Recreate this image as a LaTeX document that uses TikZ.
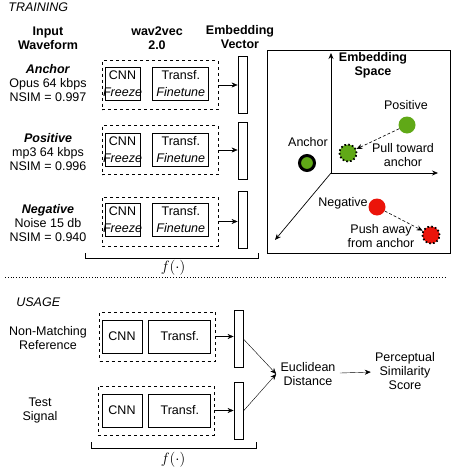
\documentclass[tikz,border=0pt]{standalone}
\usepackage{fix-cm}
\usepackage{fontspec}
\setmainfont{Liberation Sans}
\usetikzlibrary{arrows.meta, positioning}

\definecolor{ptgreen}{RGB}{96,169,23}
\definecolor{ptred}{RGB}{235,20,10}

\begin{document}
\fontsize{12.5}{14}\selectfont
\begin{tikzpicture}[x=1pt, y=-1pt, >={Stealth[length=6pt,width=5pt]},
    every node/.style={align=center},
    enc/.style={draw, dashed, line width=0.6pt, minimum width=116, minimum height=49},
    blk/.style={draw, line width=0.8pt, inner sep=0, minimum height=33},
    cnn/.style={blk, minimum width=35},
    tfm/.style={blk, minimum width=56},
    vec/.style={draw, line width=0.8pt, inner sep=0, minimum width=9, minimum height=57},
    dot/.style={circle, inner sep=0, minimum size=17},
    moved/.style={dot, draw, line width=1.8pt, dash pattern=on 1.6pt off 2.2pt},
    hint/.style={->, densely dashed, line width=0.6pt},
    fnc/.style={font=\fontsize{15}{16}\selectfont}]

\useasboundingbox (0,0) rectangle (453,471);

% Training
\node[font=\itshape, anchor=west] (train) at (4,7) {TRAINING};
\node[font=\bfseries] (hIn) at (48,38) {Input\\Waveform};
\node[font=\bfseries] (hW2v) at (157,38) {wav2vec\\2.0};
\node[font=\bfseries] (hEmb) at (240,37) {Embedding\\Vector};

% anchor row
\node (inA) at (48,83) {\textbf{\textit{Anchor}}\\Opus 64 kbps\\NSIM = 0.997};
\node[enc] (encA) at (160,85) {};
\node[cnn] (cnnA) at (122.5,84) {CNN\\[3pt]\makebox[0pt]{\textit{Freeze}}};
\node[tfm] (tfA) [right=12 of cnnA] {Transf.\\[3pt]\textit{Finetune}};
\node[vec] (vecA) at (242.5,85) {};
\draw[->] (encA.east) -- (encA.east -| vecA.west);

% positive row
\node (inP) at (48,152) {\textbf{\textit{Positive}}\\mp3 64 kbps\\NSIM = 0.996};
\node[enc] (encP) at (160,150) {};
\node[cnn] (cnnP) at (122.5,150) {CNN\\[3pt]\makebox[0pt]{\textit{Freeze}}};
\node[tfm] (tfP) [right=12 of cnnP] {Transf.\\[3pt]\textit{Finetune}};
\node[vec] (vecP) at (242.5,151) {};
\draw[->] (encP.east) -- (encP.east -| vecP.west);

% negative row
\node (inN) at (48,223) {\textbf{\textit{Negative}}\\Noise 15 db\\NSIM = 0.940};
\node[enc] (encN) at (160,221.5) {};
\node[cnn] (cnnN) at (122.5,220) {CNN\\[3pt]\makebox[0pt]{\textit{Freeze}}};
\node[tfm] (tfN) [right=12 of cnnN] {Transf.\\[3pt]\textit{Finetune}};
\node[vec] (vecN) at (242.5,219.5) {};
\draw[->] (encN.east) -- (encN.east -| vecN.west);

\draw[line width=0.6pt] (85,253) -- (85,258) -- (258,258) -- (258,253);
\node[fnc] (fT) at (173,268) {$f(\cdot)$};

% embedding space
\draw[line width=0.8pt] (267,50) rectangle (450,253);
\coordinate (O) at (331,173);
\coordinate (yEnd) at (331,53);
\coordinate (xEnd) at (438,173);
\coordinate (zEnd) at (275,240);
\draw[->, line width=0.7pt] (O) -- (yEnd);
\draw[->, line width=0.7pt] (O) -- (xEnd);
\draw[->, line width=0.7pt] (O) -- (zEnd);
\node[font=\bfseries] (hSpace) at (373,65) {Embedding\\Space};

\node[dot, draw, line width=3pt, fill=ptgreen, minimum size=15] (anc) at (307,163) {};
\node (ancL) at (308,142) {Anchor};
\node[dot, fill=ptgreen] (pos) at (407,125) {};
\node (posL) at (406,105) {Positive};
\node[moved, fill=ptgreen] (posNew) at (348,153) {};
\draw[hint] (pos) -- (posNew);
\node (pull) at (403,155) {Pull toward\\anchor};

\node[dot, fill=ptred] (neg) at (377,207) {};
\node (negL) at (343,203) {Negative};
\node[moved, fill=ptred] (negNew) at (431,235) {};
\draw[hint] (neg) -- (negNew);
\node (push) at (381,236) {Push away\\from anchor};

\draw[dotted, line width=0.8pt] (5,277) -- (447,277);

% Usage
\node[font=\itshape, anchor=west] (usage) at (12,302) {USAGE};

\node (inRef) at (48,338) {Non-Matching\\Reference};
\node[enc] (encR) at (157.5,336.5) {};
\node[blk, minimum width=40] (cnnR) at (122,336.5) {CNN};
\node[blk, minimum width=62] (tfR) [right=6 of cnnR] {Transf.};
\node[vec] (vecR) at (238.5,339) {};
\draw[->] (encR.east) -- (encR.east -| vecR.west);

\node (inT) at (40,410) {Test\\Signal};
\node[enc] (encT) at (156,410.5) {};
\node[blk, minimum width=40] (cnnT) at (122,410.5) {CNN};
\node[blk, minimum width=62] (tfT) [right=6 of cnnT] {Transf.};
\node[vec] (vecT) at (238.5,411) {};
\draw[->] (encT.east) -- (encT.east -| vecT.west);

\node (dist) at (308,374) {Euclidean\\Distance};
\draw[->] (vecR.east) -- (dist.west);
\draw[->] (vecT.east) -- (dist.west);
\node (score) at (405,371) {Perceptual\\Similarity\\Score};
\draw[->] (dist) -- (score);

\draw[line width=0.6pt] (91,442) -- (91,448) -- (256,448) -- (256,442);
\node[fnc] (fU) at (173,460) {$f(\cdot)$};
\end{tikzpicture}
\end{document}
